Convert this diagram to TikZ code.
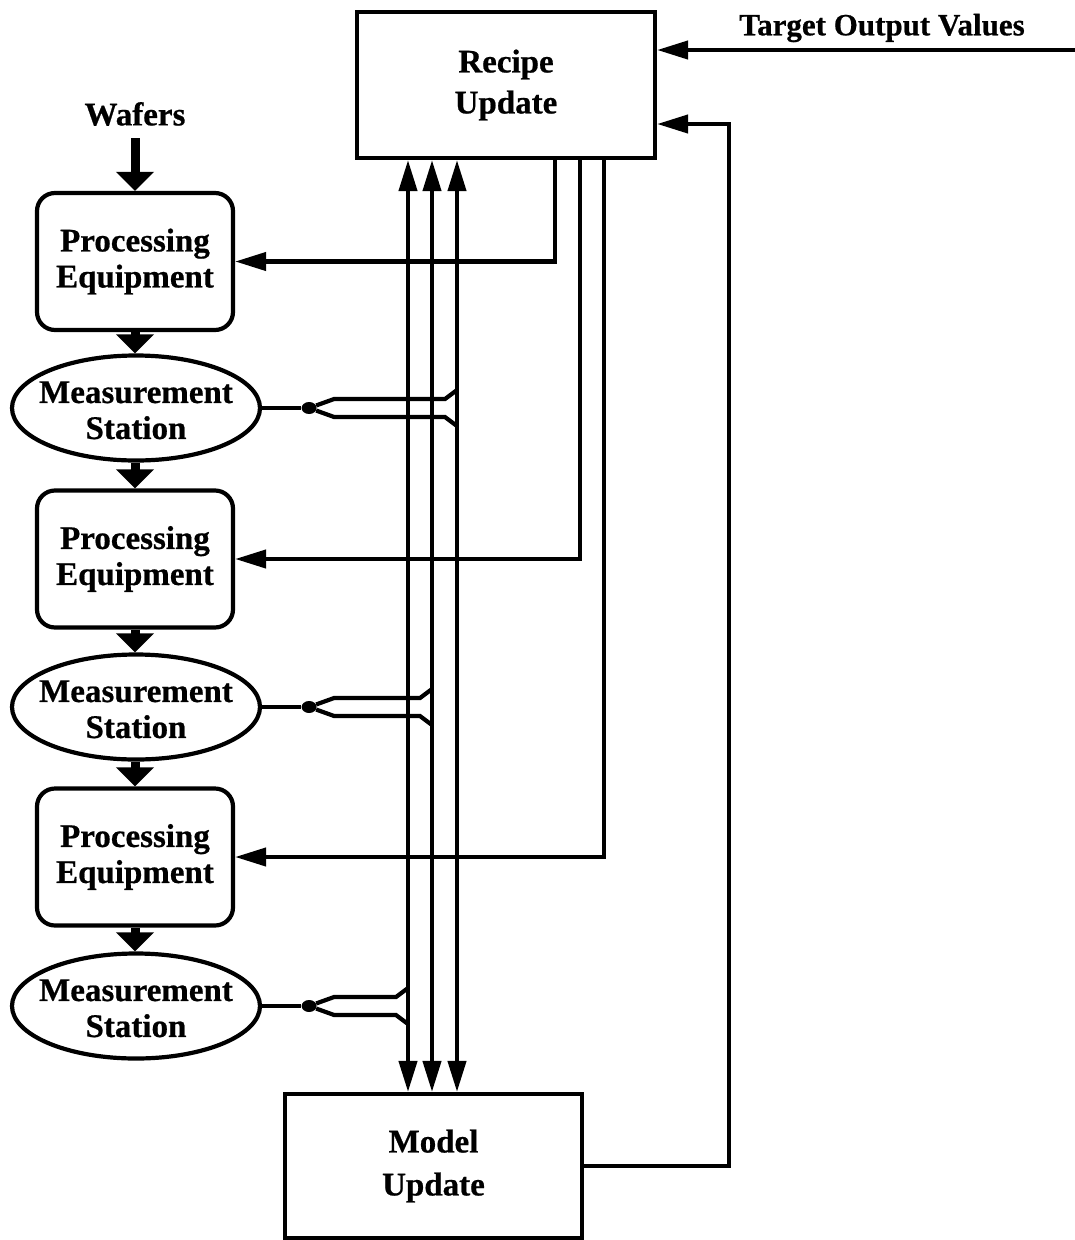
\documentclass[tikz,border=0pt]{standalone}
\usepackage{fontspec}
\setmainfont{Liberation Serif}[BoldFeatures={FakeBold=0.6}]
\usetikzlibrary{arrows.meta,shapes.geometric,calc}

\newcommand\tworows[2]{\makebox[0pt]{\raisebox{-12pt}[0pt][0pt]{\begin{tabular}{@{}c@{}}#1\\#2\end{tabular}}}}

\begin{document}
\begin{tikzpicture}[x=1pt,y=-1pt,
  every node/.style={font=\bfseries\fontsize{33}{36}\selectfont},
  >={Triangle[length=31pt,width=18pt]},
  wire/.style={line width=4.2pt},
  flow/.style={line width=9pt,-{Triangle[length=19pt,width=37pt]}},
  procbox/.style={draw,line width=4.2pt,rounded corners=18pt,
    minimum width=196pt,minimum height=137pt,inner sep=0pt,align=center},
  station/.style={draw,line width=4.2pt,ellipse,
    minimum width=248pt,minimum height=105pt,inner sep=0pt},
  mainbox/.style={draw,line width=4.2pt,minimum width=298pt,
    minimum height=146pt,inner sep=0pt,align=center,
    font=\bfseries\fontsize{33}{41}\selectfont},
  dot/.style={ellipse,fill,inner sep=0pt,minimum width=15pt,minimum height=12pt},
]
\useasboundingbox (0,0) rectangle (1075,1240);

% controller blocks
\node[mainbox] (recipe) at (506,85) {Recipe\\Update};
\node[mainbox,minimum width=297pt,minimum height=144pt,
  font=\bfseries\fontsize{33}{43}\selectfont] (model) at (433.5,1166) {Model\\Update};

% wafer line
\node (wafers) at (135,114) {Wafers};
\node[procbox] (pe1) at (135,261.5) {Processing\\Equipment};
\node[station] (ms1) at (136,408) {\tworows{Measurement}{Station}};
\node[procbox] (pe2) at (135,559) {Processing\\Equipment};
\node[station] (ms2) at (136,707) {\tworows{Measurement}{Station}};
\node[procbox] (pe3) at (135,857) {Processing\\Equipment};
\node[station] (ms3) at (136,1006) {\tworows{Measurement}{Station}};

\draw[flow] (135,138) coordinate (win) -- (pe1.north);
\draw[flow] (pe1.south) -- (pe1.south |- ms1.north);
\draw[flow] (pe1.south |- ms1.south) -- (pe2.north);
\draw[flow] (pe2.south) -- (pe2.south |- ms2.north);
\draw[flow] (pe2.south |- ms2.south) -- (pe3.north);
\draw[flow] (pe3.south) -- (pe3.south |- ms3.north);

% measurement buses between the two blocks
\coordinate (c1) at (408,0);
\coordinate (c2) at (432,0);
\coordinate (c3) at (457,0);
\foreach \c in {c1,c2,c3}
  \draw[wire,<->] (\c |- model.north) -- (\c |- recipe.south);

% splitting each station output onto its bus
\foreach \m/\j/\c in {ms1/j1/c3, ms2/j2/c2, ms3/j3/c1}{
  \node[dot] (\j) at ($(\m.east)+(47,0)$) {};
  \draw[wire] (\m.east) -- (\j);
  \draw[wire] (\j) -- ++(25,-9) -- ($(\c |- \j)+(-12,-9)$) -- ($(\c |- \j)+(0,-18)$);
  \draw[wire] (\j) -- ++(25,9) -- ($(\c |- \j)+(-12,9)$) -- ($(\c |- \j)+(0,18)$);
}

% recipes sent back to the equipment
\coordinate (f1) at (555,0);
\coordinate (f2) at (580,0);
\coordinate (f3) at (604,0);
\draw[wire,->] (recipe.south -| f1) |- (pe1.east);
\draw[wire,->] (recipe.south -| f2) |- (pe2.east);
\draw[wire,->] (recipe.south -| f3) |- (pe3.east);

% targets and model feedback
\node[font=\bfseries\fontsize{31}{36}\selectfont] (target) at (882,28) {Target Output Values};
\coordinate (tv) at (1075,50);
\draw[wire,->] (tv) -- (tv -| recipe.east);
\coordinate (fb) at (729,124);
\draw[wire,->] (model.east) -| (fb) -- (fb -| recipe.east);
\end{tikzpicture}
\end{document}
